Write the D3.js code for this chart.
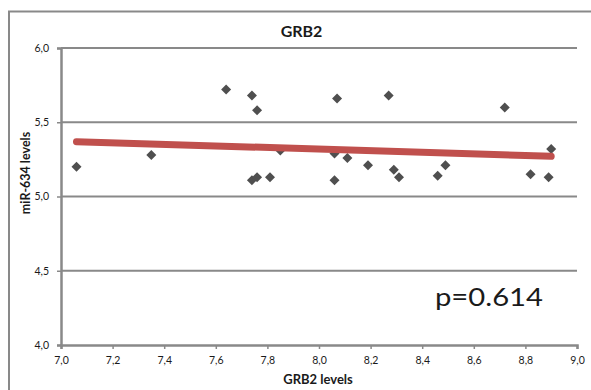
<!DOCTYPE html>
<html>
<head>
<meta charset="utf-8">
<script src="https://cdn.jsdelivr.net/npm/d3@7/dist/d3.min.js"></script>
<style>
  html, body { margin: 0; padding: 0; background: #fff; }
  svg { display: block; }
  text { font-family: Lato, "Open Sans", sans-serif; fill: #1a1a1a; }
</style>
</head>
<body>
<svg id="chart" width="591" height="390"></svg>
<script>
// GRB2 expression vs miR-634 expression, one sample per point
const grb2Levels = [7.06, 7.35, 7.64, 7.74, 7.76, 7.74, 7.76, 7.81, 7.85, 8.07, 8.27, 8.72,
                    8.06, 8.11, 8.19, 8.06, 8.29, 8.31, 8.46, 8.49, 8.82, 8.89, 8.90];
const mirLevels  = [5.20, 5.28, 5.72, 5.68, 5.58, 5.11, 5.13, 5.13, 5.31, 5.66, 5.68, 5.60,
                    5.29, 5.26, 5.21, 5.11, 5.18, 5.13, 5.14, 5.21, 5.15, 5.13, 5.32];
const xTicks = [7.0, 7.2, 7.4, 7.6, 7.8, 8.0, 8.2, 8.4, 8.6, 8.8, 9.0];
const yTicks = [4.0, 4.5, 5.0, 5.5, 6.0];
const titleText = "GRB2";
const xTitle = "GRB2 levels";
const yTitle = "miR-634 levels";
const pLabel = "p=0.614";

const svg = d3.select("#chart");
const plot = { left: 61, right: 577, top: 48, bottom: 345 };
const grey = "#898989";

const x = d3.scaleLinear().domain([7, 9]).range([plot.left, plot.right]);
const y = d3.scaleLinear().domain([4, 6]).range([plot.bottom, plot.top]);
const fmt = v => d3.format(".1f")(v).replace(".", ",");

// outer chart frame (runs past the right and bottom edges)
svg.append("rect")
  .attr("x", 9).attr("y", 11.5).attr("width", 640).attr("height", 420)
  .attr("fill", "none").attr("stroke", grey).attr("stroke-width", 2);

// y axis with labels
const yAxis = svg.append("g")
  .attr("transform", `translate(${plot.left},0)`)
  .call(d3.axisLeft(y).tickValues(yTicks).tickFormat(fmt).tickSize(4).tickPadding(8));
yAxis.selectAll(".tick line").attr("stroke", grey).attr("stroke-width", 1.5);
yAxis.selectAll(".tick text").attr("font-size", 10.5).attr("fill", "#1a1a1a")
  .style("font-family", "Lato, 'Open Sans', sans-serif");
yAxis.select(".domain").attr("stroke", grey).attr("stroke-width", 2.5);

// horizontal gridlines
svg.append("g").selectAll("line.grid")
  .data(yTicks.filter(v => v > 4))
  .join("line")
  .attr("x1", plot.left).attr("x2", plot.right)
  .attr("y1", d => y(d)).attr("y2", d => y(d))
  .attr("stroke", grey).attr("stroke-width", 2);

// x axis
const xAxis = svg.append("g")
  .attr("transform", `translate(0,${plot.bottom})`)
  .call(d3.axisBottom(x).tickValues(xTicks).tickFormat(fmt).tickSize(4).tickPadding(8));
xAxis.selectAll(".tick line").attr("stroke", grey).attr("stroke-width", 1.5);
xAxis.selectAll(".tick text").attr("font-size", 10.5).attr("fill", "#1a1a1a")
  .style("font-family", "Lato, 'Open Sans', sans-serif");
xAxis.select(".domain").attr("stroke", grey).attr("stroke-width", 2.5);

// data points as diamonds
const points = grb2Levels.map((g, i) => ({ g, m: mirLevels[i] }));
svg.append("g").selectAll("path.pt")
  .data(points)
  .join("path")
  .attr("d", d3.symbol(d3.symbolSquare, 50))
  .attr("transform", d => `translate(${x(d.g)},${y(d.m)}) rotate(45)`)
  .attr("fill", "#4f4f4f");

// least-squares trend line across the observed GRB2 range
const mx = d3.mean(grb2Levels), my = d3.mean(mirLevels);
const sxy = d3.sum(points, d => (d.g - mx) * (d.m - my));
const sxx = d3.sum(points, d => (d.g - mx) ** 2);
const slope = sxy / sxx, intercept = my - slope * mx;
const [gMin, gMax] = d3.extent(grb2Levels);
svg.append("path")
  .datum([gMin, gMax])
  .attr("d", d3.line().x(d => x(d)).y(d => y(intercept + slope * d)))
  .attr("stroke", "#C0504D").attr("stroke-width", 7)
  .attr("stroke-linecap", "round").attr("fill", "none");

// titles
svg.append("text").attr("x", 301.5).attr("y", 36.5)
  .attr("text-anchor", "middle").attr("font-size", 16).attr("font-weight", "bold")
  .text(titleText);
svg.append("text").attr("x", 318).attr("y", 384)
  .attr("text-anchor", "middle").attr("font-size", 13).attr("font-weight", "bold")
  .text(xTitle);
svg.append("text")
  .attr("transform", "translate(30,173) rotate(-90)")
  .attr("text-anchor", "middle").attr("font-size", 12.5).attr("font-weight", "bold")
  .text(yTitle);

// p-value annotation
svg.append("text").attr("x", 435).attr("y", 305.5)
  .attr("font-size", 25)
  .attr("textLength", 108).attr("lengthAdjust", "spacingAndGlyphs")
  .text(pLabel);
</script>
</body>
</html>
